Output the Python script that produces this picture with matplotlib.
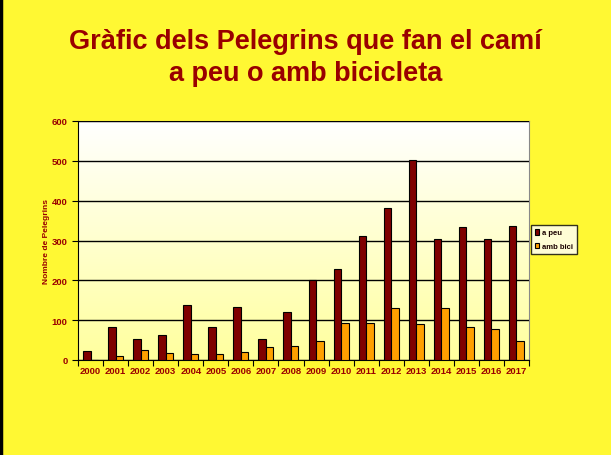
import matplotlib
matplotlib.use("Agg")
import matplotlib.pyplot as plt
import numpy as np

years = [str(y) for y in range(2000, 2018)]
a_peu = [23, 84, 52, 64, 139, 84, 134, 52, 121, 200, 229, 312, 381, 503, 305, 335, 305, 337]
amb_bici = [0, 11, 26, 18, 16, 16, 21, 33, 36, 48, 94, 94, 131, 91, 131, 84, 79, 48]

BG = "#FFF833"
TXT = "#990000"

plt.rcParams["font.family"] = ["Liberation Sans", "DejaVu Sans"]

fig = plt.figure(figsize=(6.11, 4.56), dpi=100, facecolor=BG)
ax = fig.add_axes([78 / 611, 1 - 361 / 456, 451 / 611, 239 / 456])

# gradient background inside the plot area
grad = np.linspace(0, 1, 256).reshape(-1, 1)
top = np.array([1.0, 1.0, 1.0])
bot = np.array([1.0, 1.0, 0.62])
img = top + (bot - top) * grad[:, :, None]
ax.imshow(img, extent=[-0.5, len(years) - 0.5, 0, 600], aspect="auto", zorder=0)

x = np.arange(len(years))
w = 0.3
ax.bar(x - w / 2, a_peu, w, color="#7F0000", edgecolor="black", linewidth=0.8,
       label="a peu", zorder=3)
ax.bar(x + w / 2, amb_bici, w, color="#FFA000", edgecolor="black", linewidth=0.8,
       label="amb bici", zorder=3)

ax.set_xlim(-0.5, len(years) - 0.5)
ax.set_ylim(0, 600)
ax.set_yticks(range(0, 601, 100))
ax.yaxis.grid(True, color="black", linewidth=1.0, zorder=1)
ax.set_axisbelow(False)
ax.set_xticks(np.arange(len(years) + 1) - 0.5, minor=False)
ax.set_xticklabels([])
ax.set_xticks(x, minor=True)
ax.set_xticklabels(years, minor=True)
ax.tick_params(axis="x", which="major", length=4, direction="out", color="black")
ax.tick_params(axis="x", which="minor", length=0, labelsize=6.8, labelcolor=TXT, pad=4)
ax.tick_params(axis="y", length=4, labelsize=6.8, labelcolor=TXT)
for lbl in ax.get_xticklabels(minor=True) + ax.get_yticklabels():
    lbl.set_fontweight("bold")

ax.spines["left"].set_color("black")
ax.spines["bottom"].set_color("black")
ax.spines["top"].set_color("#888888")
ax.spines["right"].set_color("#888888")

ax.set_ylabel("Nombre de Pelegrins", fontsize=6, color=TXT, fontweight="bold")
ax.yaxis.set_label_coords(-0.062, 0.5)

leg = fig.legend(loc="upper left", bbox_to_anchor=(531 / 611, 1 - 226 / 456),
                 fontsize=5.5, frameon=True, fancybox=False, edgecolor="black",
                 handlelength=0.5, handleheight=0.8, borderpad=0.5, labelspacing=0.8,
                 handletextpad=0.4, borderaxespad=0)
leg.get_frame().set_linewidth(1.0)
for t in leg.get_texts():
    t.set_color("#1a0000")
    t.set_fontweight("bold")

fig.text(0.5, 1 - 42 / 456, "Gràfic dels Pelegrins que fan el camí", ha="center", va="center",
         fontsize=19.5, fontweight="bold", color=TXT)
fig.text(0.5, 1 - 74 / 456, "a peu o amb bicicleta", ha="center", va="center",
         fontsize=19.5, fontweight="bold", color=TXT)

# black strip at the left edge
fig.add_artist(plt.Line2D([0.002, 0.002], [0, 1], color="black", linewidth=2.5,
                          transform=fig.transFigure))

fig.savefig("out.png", dpi=100, facecolor=BG)
